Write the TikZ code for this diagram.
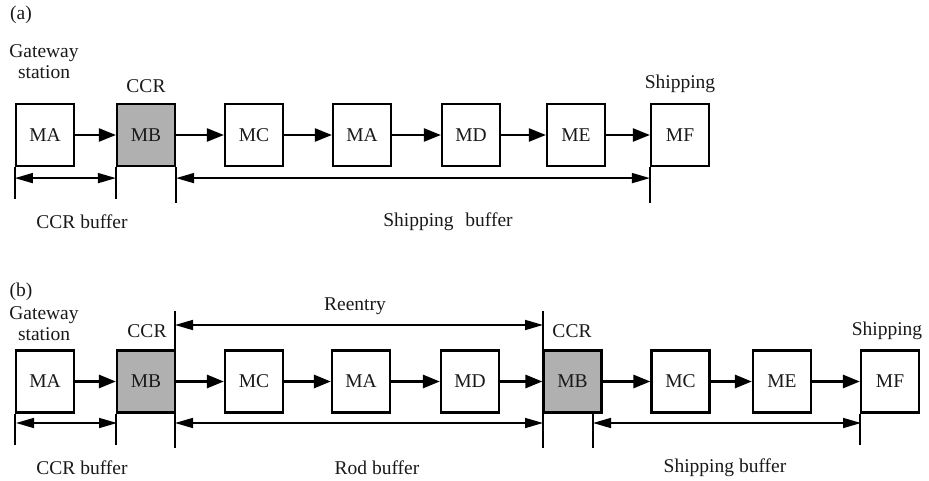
\documentclass[tikz,border=0pt]{standalone}
\usepackage{fontspec}
\setmainfont{Liberation Serif}
\usetikzlibrary{arrows.meta}
\definecolor{txt}{RGB}{25,25,25}
\definecolor{boxgray}{RGB}{176,176,176}
\begin{document}
\begin{tikzpicture}[x=1pt,y=-1pt,
  every node/.style={text=txt,font=\fontsize{19.5}{21}\selectfont},
  mbox/.style={draw=black,line width=2.2pt,fill=white,minimum width=58pt,minimum height=62pt,inner sep=0pt},
  ccrbox/.style={mbox,fill=boxgray},
  flow/.style={line width=2.2pt,-{Triangle[length=17pt,width=13pt]}},
  flowb/.style={line width=2.8pt,-{Triangle[length=17pt,width=13pt]}},
  dim/.style={line width=1.6pt,{Triangle[length=18pt,width=10pt]}-{Triangle[length=18pt,width=10pt]}},
  tick/.style={line width=1.8pt},
  lbl/.style={inner sep=0pt,align=center}]
\useasboundingbox (0,0) rectangle (929,481);

% ---------- (a) ----------
\node[lbl] (la) at (21,15) {(a)};
\node[lbl] (gwa) at (44,62) {Gateway\\station};
\node[lbl] (ccra) at (146,86) {CCR};
\node[lbl] (shpa) at (680,84) {Shipping};

\node[mbox]   (a1) at (45,135)  {MA};
\node[ccrbox] (a2) at (146,135) {MB};
\node[mbox]   (a3) at (254,135) {MC};
\node[mbox]   (a4) at (362,135) {MA};
\node[mbox]   (a5) at (471,135) {MD};
\node[mbox]   (a6) at (576,135) {ME};
\node[mbox]   (a7) at (680,135) {MF};
\foreach \i/\j in {a1/a2,a2/a3,a3/a4,a4/a5,a5/a6,a6/a7}
  \draw[flow] (\i) -- (\j);

\coordinate (ta1) at ([yshift=-32pt]a1.south west);
\coordinate (ta2) at ([yshift=-32pt]a2.south west);
\coordinate (ta3) at ([yshift=-36pt]a2.south east);
\coordinate (ta4) at ([yshift=-36pt]a7.south west);
\draw[tick] (a1.south west) -- (ta1);
\draw[tick] (a2.south west) -- (ta2);
\draw[tick] (a2.south east) -- (ta3);
\draw[tick] (a7.south west) -- (ta4);
\coordinate (da1) at ([yshift=-11pt]a1.south west);
\coordinate (da2) at ([yshift=-11pt]a2.south west);
\coordinate (da3) at ([yshift=-11pt]a2.south east);
\coordinate (da4) at ([yshift=-11pt]a7.south west);
\draw[dim] (da1) -- (da2);
\draw[dim] (da3) -- (da4);
\node[lbl] (cba) at (82,222) {CCR buffer};
\node[lbl] (sba) at (448,222) {Shipping\hspace{0.6em}buffer};

% ---------- (b) ----------
\node[lbl] (lb) at (21,292) {(b)};
\node[lbl] (gwb) at (44,324) {Gateway\\station};
\node[lbl] (ccrb1) at (147,331) {CCR};
\node[lbl] (ccrb2) at (572,331) {CCR};
\node[lbl] (shpb) at (887,331) {Shipping};
\node[lbl] (reen) at (355,306) {Reentry};

% vertical lines through CCR boxes (drawn first, hidden by box fill)
\coordinate (v1t) at (175,311);
\coordinate (v1b) at (175,448);
\coordinate (v2t) at (543,311);
\coordinate (v2b) at (543,448);
\draw[tick] (v1t) -- (v1b);
\draw[tick] (v2t) -- (v2b);

\node[mbox]   (b1) at (45,381.5)  {MA};
\node[ccrbox] (b2) at (146,381.5) {MB};
\node[mbox]   (b3) at (254,381.5) {MC};
\node[mbox]   (b4) at (361,381.5) {MA};
\node[mbox]   (b5) at (470,381.5) {MD};
\node[ccrbox] (b6) at (572.5,381.5) {MB};
\node[mbox]   (b7) at (680.5,381.5) {MC};
\node[mbox]   (b8) at (782,381.5) {ME};
\node[mbox]   (b9) at (890,381.5) {MF};
\foreach \i/\j in {b1/b2,b2/b3,b3/b4,b4/b5,b5/b6,b6/b7,b7/b8,b8/b9}
  \draw[flowb] (\i) -- (\j);

\coordinate (tb1) at ([yshift=-31pt]b1.south west);
\coordinate (tb2) at ([yshift=-31pt]b2.south west);
\coordinate (tb3s) at (593,413);
\coordinate (tb3) at (593,448);
\coordinate (tb4) at ([yshift=-31pt]b9.south west);
\draw[tick] (b1.south west) -- (tb1);
\draw[tick] (b2.south west) -- (tb2);
\draw[tick] (tb3s) -- (tb3);
\draw[tick] (b9.south west) -- (tb4);

\coordinate (r1) at (175,325);
\coordinate (r2) at (543,325);
\draw[dim] (r1) -- (r2);
\coordinate (db1) at (16,423);
\coordinate (db2) at (117,423);
\coordinate (db3) at (175,423);
\coordinate (db4) at (543,423);
\coordinate (db5) at (593,423);
\coordinate (db6) at (861,423);
\draw[dim] (db1) -- (db2);
\draw[dim] (db3) -- (db4);
\draw[dim] (db5) -- (db6);

\node[lbl] (cbb) at (82,468) {CCR buffer};
\node[lbl] (rbb) at (377,468) {Rod buffer};
\node[lbl] (sbb) at (725,468) {Shipping buffer};
\end{tikzpicture}
\end{document}
